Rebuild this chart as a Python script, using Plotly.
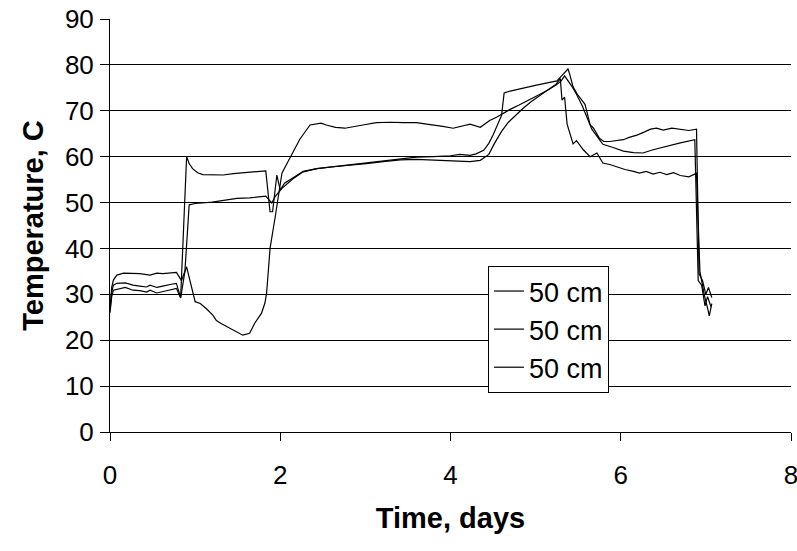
import plotly.graph_objects as go

# Time in days and temperature (C) for the three 50 cm probes
t_a = [0.0, 0.02, 0.04, 0.08, 0.18, 0.27, 0.35, 0.43, 0.47, 0.55, 0.62, 0.66, 0.72, 0.78, 0.83,
       0.90, 0.93, 0.97, 1.03, 1.09, 1.20, 1.33, 1.45, 1.60, 1.70, 1.83, 1.88, 1.91, 1.96, 2.00,
       2.05, 2.15, 2.27, 2.43, 2.62, 2.82, 3.01, 3.21, 3.41, 3.60, 3.80, 4.00, 4.11, 4.23, 4.30,
       4.39, 4.45, 4.50, 4.60, 4.63, 4.70, 4.82, 4.92, 5.01, 5.10, 5.20, 5.25, 5.30, 5.38, 5.40,
       5.44, 5.49, 5.52, 5.58, 5.64, 5.68, 5.75, 5.80, 5.87, 5.95, 6.03, 6.10, 6.19, 6.28, 6.35,
       6.42, 6.50, 6.60, 6.70, 6.80, 6.89, 6.92, 6.96, 7.00, 7.03, 7.07]
y_a = [26.5, 30.5, 32.0, 32.4, 32.5, 32.0, 31.8, 31.6, 32.0, 31.5, 31.8, 32.0, 32.2, 32.4, 29.3,
       60.0, 58.5, 57.4, 56.5, 56.1, 56.1, 56.0, 56.3, 56.6, 56.8, 56.9, 48.0, 48.0, 56.0, 52.7,
       54.2, 55.3, 56.8, 57.4, 57.8, 58.2, 58.6, 59.1, 59.6, 59.9, 60.0, 60.2, 60.5, 60.3, 60.6,
       61.4, 62.9, 64.7, 69.0, 73.9, 74.3, 74.7, 75.2, 75.6, 75.9, 76.3, 76.5, 77.5, 79.1, 78.0,
       75.2, 73.6, 72.8, 71.4, 67.0, 66.2, 64.0, 63.3, 63.3, 63.5, 63.7, 64.2, 64.7, 65.4, 66.0,
       66.2, 65.8, 66.2, 66.0, 65.7, 66.0, 34.5, 33.0, 30.0, 31.5, 29.3]

t_b = [0.0, 0.02, 0.04, 0.08, 0.18, 0.27, 0.35, 0.43, 0.47, 0.55, 0.62, 0.66, 0.72, 0.78, 0.83,
       0.88, 0.93, 1.00, 1.20, 1.40, 1.49, 1.64, 1.83, 1.90, 1.94, 2.02, 2.15, 2.27, 2.43, 2.62,
       2.82, 3.01, 3.21, 3.41, 3.60, 3.80, 4.00, 4.11, 4.23, 4.35, 4.45, 4.52, 4.60, 4.68, 4.76,
       4.85, 4.95, 5.05, 5.15, 5.24, 5.29, 5.31, 5.34, 5.37, 5.44, 5.48, 5.56, 5.64, 5.72, 5.79,
       5.87, 5.95, 6.05, 6.15, 6.22, 6.30, 6.38, 6.46, 6.54, 6.62, 6.70, 6.80, 6.89, 6.93, 6.98,
       7.02, 7.04, 7.07]
y_b = [26.0, 29.5, 30.9, 31.1, 31.5, 30.9, 30.8, 30.5, 30.9, 30.3, 30.6, 30.9, 31.0, 31.3, 29.2,
       35.0, 49.5, 49.8, 50.1, 50.6, 50.9, 51.0, 51.4, 49.9, 51.3, 53.1, 55.2, 56.7, 57.4, 57.8,
       58.1, 58.5, 58.9, 59.3, 59.4, 59.2, 59.0, 58.9, 58.9, 59.2, 60.5, 63.0, 65.5, 67.5, 69.0,
       70.5, 72.0, 73.3, 74.5, 75.8, 77.0, 72.3, 73.0, 67.1, 62.8, 63.5, 61.5, 60.0, 60.8, 58.6,
       58.3, 57.8, 57.2, 56.8, 56.4, 56.8, 56.2, 56.6, 56.1, 56.5, 55.9, 55.6, 56.4, 35.0, 30.0,
       27.0, 25.3, 28.0]

t_c = [0.0, 0.02, 0.04, 0.08, 0.16, 0.25, 0.35, 0.47, 0.55, 0.62, 0.70, 0.78, 0.80, 0.84, 0.90,
       0.95, 1.00, 1.06, 1.13, 1.21, 1.25, 1.31, 1.41, 1.53, 1.56, 1.64, 1.70, 1.78, 1.82, 1.84,
       1.87, 1.88, 1.94, 2.02, 2.07, 2.19, 2.23, 2.35, 2.48, 2.54, 2.65, 2.76, 2.87, 2.97, 3.13,
       3.30, 3.45, 3.60, 3.72, 3.82, 3.91, 4.03, 4.11, 4.23, 4.35, 4.46, 4.54, 4.62, 4.70, 4.80,
       4.92, 5.04, 5.15, 5.24, 5.30, 5.34, 5.42, 5.48, 5.55, 5.62, 5.66, 5.72, 5.79, 5.91, 6.03,
       6.15, 6.26, 6.38, 6.54, 6.70, 6.87, 6.91, 6.95, 6.99, 7.02, 7.06]
y_c = [27.0, 31.5, 33.1, 34.2, 34.6, 34.6, 34.5, 34.2, 34.6, 34.5, 34.7, 34.8, 34.2, 33.0, 36.0,
       32.0, 28.4, 28.0, 26.9, 25.4, 24.3, 23.6, 22.6, 21.5, 21.1, 21.5, 23.7, 25.9, 28.1, 30.3,
       37.5, 40.0, 46.8, 56.4, 58.2, 62.5, 63.8, 66.9, 67.3, 66.9, 66.4, 66.2, 66.5, 66.9, 67.4,
       67.5, 67.4, 67.4, 67.1, 66.9, 66.6, 66.2, 66.6, 67.1, 66.4, 67.9, 68.6, 69.5, 70.3, 71.2,
       72.3, 73.5, 74.6, 75.6, 76.5, 77.6, 75.5, 73.6, 71.0, 68.0, 66.0, 64.5, 62.7, 62.0, 61.2,
       60.9, 60.8, 61.5, 62.3, 63.0, 63.7, 33.0, 32.0, 27.5, 29.5, 27.3]

series_names = ["50 cm", "50 cm", "50 cm"]
x_ticks = [0, 2, 4, 6, 8]
y_ticks = [0, 10, 20, 30, 40, 50, 60, 70, 80, 90]

FONT = "Liberation Sans, Arial, sans-serif"
FS = 26
TFS = 29

fig = go.Figure()
for tt, yy, nm in zip([t_a, t_b, t_c], [y_a, y_b, y_c], series_names):
    fig.add_trace(go.Scatter(x=tt, y=yy, mode="lines", name=nm,
                             line=dict(color="black", width=1.2)))

fig.update_layout(
    width=797, height=551,
    margin=dict(l=110, r=6, t=19, b=119, autoexpand=False),
    paper_bgcolor="white", plot_bgcolor="white",
    font=dict(family=FONT, size=FS, color="black"),
    showlegend=True,
    legend=dict(x=0.555, y=0.402, xanchor="left", yanchor="top",
                bgcolor="white", bordercolor="black", borderwidth=1,
                font=dict(family=FONT, size=27, color="black"),
                tracegroupgap=0, itemwidth=30),
)
fig.update_xaxes(range=[0, 8], tickvals=x_ticks, ticks="outside", ticklen=8,
                 tickcolor="black", showline=True, linecolor="black", linewidth=1,
                 showgrid=False, zeroline=False, ticklabelstandoff=12,
                 ticklabeloverflow="allow",
                 title=dict(text="<b>Time, days</b>", font=dict(family=FONT, size=TFS), standoff=18))
fig.update_yaxes(range=[0, 90], tickvals=y_ticks, ticks="outside", ticklen=9,
                 tickcolor="black", showline=True, linecolor="black", linewidth=1,
                 showgrid=True, gridcolor="black", gridwidth=1, zeroline=False,
                 ticklabelstandoff=1, ticklabeloverflow="allow",
                 title=dict(text="<b>Temperature, C</b>", font=dict(family=FONT, size=TFS), standoff=12))

fig.write_html("out.html", config={"displayModeBar": False},
               post_script="document.body.style.margin='0';")
